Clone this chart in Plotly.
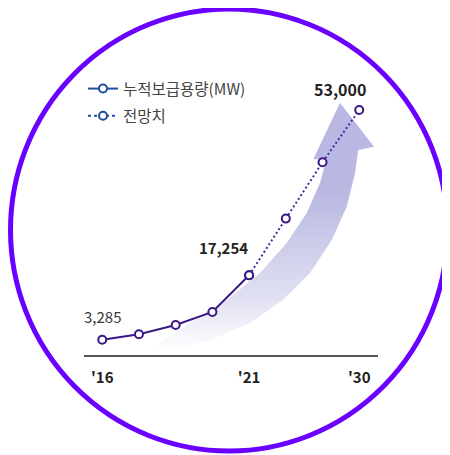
import plotly.graph_objects as go

# ---- data ----
periods = [0, 1, 2, 3, 4, 5, 6, 7]
values = [3285, 4500, 6500, 9300, 17254, 29500, 41700, 53000]
actual_n = 5  # first five points are actual cumulative capacity
tick_positions = [0, 4, 7]
tick_labels = ["'16", "'21", "'30"]
series_names = ["누적보급용량(MW)", "전망치"]
label_points = [0, 4, 7]

FONT = "Noto Sans CJK KR"
LINE = "#3b1883"
DOT = "#4b2aa3"
LEG = "#1f4e9e"
CIRCLE = "#6a00ff"

W, H = 450, 455
OFF = 8  # page body margin


def px(x):
    return (x - OFF) / W


def py(y):
    return 1 - (y - OFF) / H


fig = go.Figure()

# decorative curved arrow (screen-pixel axes x/y)
arrow_x = [150, 160, 190, 226.7, 260, 286.7, 306.7, 320, 326.5, 313.3, 340, 374, 358.3,
           355, 346.7, 331.7, 310, 283, 250, 210, 170, 150]
arrow_y = [352, 343, 323, 300, 273, 243, 213, 183, 159, 159.3, 102.7, 146.7, 150,
           173.3, 206.7, 240, 273, 300, 323, 340, 350, 352]
fig.add_trace(go.Scatter(
    x=arrow_x, y=arrow_y, xaxis="x", yaxis="y", mode="lines",
    line=dict(width=0, color="rgba(0,0,0,0)"), fill="toself",
    fillgradient=dict(type="vertical", start=352, stop=190,
                      colorscale=[[0, "rgba(184,184,226,0)"], [0.35, "rgba(184,184,226,0.45)"],
                                  [1, "rgba(184,184,226,1)"]]),
    hoverinfo="skip", showlegend=False))

# actual series
fig.add_trace(go.Scatter(
    x=periods[:actual_n], y=values[:actual_n], xaxis="x2", yaxis="y2",
    mode="lines+markers", line=dict(color=LINE, width=2),
    marker=dict(symbol="circle", size=8, color="white", line=dict(color=LINE, width=2)),
    showlegend=False, cliponaxis=False))

# projection series
fig.add_trace(go.Scatter(
    x=periods[actual_n - 1:], y=values[actual_n - 1:], xaxis="x2", yaxis="y2",
    mode="lines+markers", line=dict(color=DOT, width=2, dash="2px,2.5px"),
    marker=dict(symbol="circle", size=8, color="white", line=dict(color=LINE, width=2)),
    showlegend=False, cliponaxis=False))

# legend entries
for name, dash in zip(series_names, ["solid", "dot"]):
    fig.add_trace(go.Scatter(
        x=[None], y=[None], xaxis="x2", yaxis="y2", mode="lines+markers", name=name,
        line=dict(color=LEG, width=2, dash=dash),
        marker=dict(symbol="circle", size=8, color="white", line=dict(color=LEG, width=2)),
        legendgroup=name))

# value labels
label_style = {
    0: dict(bold=False, xs=0, ys=23, size=15),
    4: dict(bold=True, xs=-26, ys=28, size=15),
    7: dict(bold=True, xs=-19, ys=21, size=16),
}
for i in label_points:
    st = label_style[i]
    txt = f"{values[i]:,}"
    fig.add_annotation(
        x=periods[i], y=values[i], xref="x2", yref="y2", text=txt, showarrow=False,
        xshift=st["xs"], yshift=st["ys"],
        font=dict(family=FONT, size=st["size"], color="#222" if st["bold"] else "#3a3a3a",
                  weight="bold" if st["bold"] else "normal"))

# circle border
fig.add_shape(type="circle", xref="paper", yref="paper",
              x0=px(10.5), x1=px(447.5), y0=py(451), y1=py(9),
              line=dict(color=CIRCLE, width=5), layer="above")

fig.update_layout(
    width=W, height=H, margin=dict(l=0, r=0, t=0, b=0),
    paper_bgcolor="white", plot_bgcolor="rgba(0,0,0,0)",
    font=dict(family=FONT),
    xaxis=dict(domain=[0, 1], range=[OFF, W + OFF], visible=False, fixedrange=True),
    yaxis=dict(domain=[0, 1], range=[H + OFF, OFF], visible=False, fixedrange=True),
    xaxis2=dict(domain=[px(83.9), px(377.6)], range=[-0.5, 7.5], anchor="y2",
                showgrid=False, zeroline=False, showline=True, linecolor="#555", linewidth=2,
                tickmode="array", tickvals=tick_positions, ticktext=tick_labels,
                ticks="outside", ticklen=8, tickcolor="rgba(0,0,0,0)",
                tickfont=dict(family=FONT, size=15, color="#222", weight="bold")),
    yaxis2=dict(domain=[py(355), py(77.6)], range=[0, 60000], anchor="x2",
                visible=False, showgrid=False, zeroline=False),
    legend=dict(x=px(83), y=py(72), xanchor="left", yanchor="top",
                bgcolor="rgba(0,0,0,0)", font=dict(family=FONT, size=15.5, color="#444"),
                tracegroupgap=4, itemwidth=30),
    showlegend=True,
)

fig.write_html("out.html")
